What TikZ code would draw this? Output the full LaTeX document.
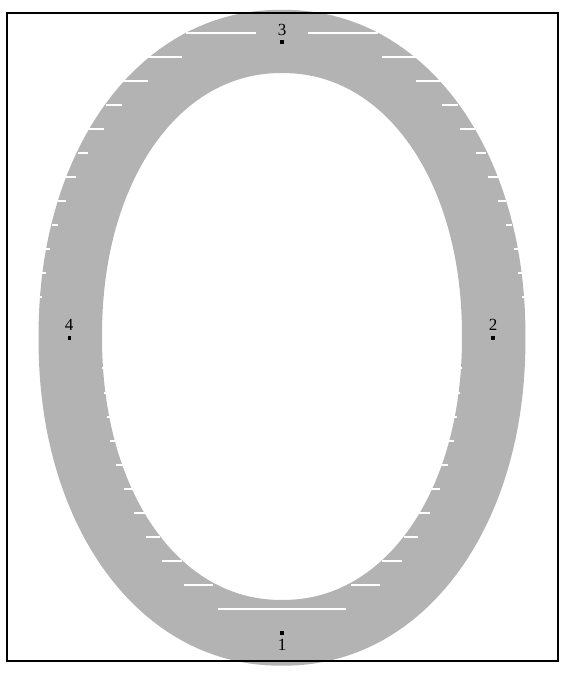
\documentclass[tikz,border=0pt]{standalone}
\usepackage{fontspec}
\setmainfont{Liberation Serif}
\definecolor{ringgray}{RGB}{179,179,179}
\tikzset{
  ringfill/.style={fill=ringgray, even odd rule},
  gapline/.style={draw=white, line width=1.1pt},
  lbl/.style={font=\fontsize{17}{17}\selectfont, inner sep=0pt, text=black},
  pdot/.style={rectangle, fill=black, inner sep=0pt, minimum size=3.6pt},
  frame/.style={draw=black, line width=2.2pt}
}
\begin{document}
\begin{tikzpicture}[x=1pt,y=-1pt]
\useasboundingbox (0,0) rectangle (572,682);
% ring (superellipse, exponent 2.1)
\fill[ringfill]
  plot[variable=\t, domain=1:361, samples=181]
    ({282 + 243.5*cos(\t)*pow(abs(cos(\t)),-0.048)},
     {337.75 + 328*sin(\t)*pow(abs(sin(\t)),-0.048)}) -- cycle
  plot[variable=\t, domain=1:361, samples=181]
    ({282 + 180*cos(\t)*pow(abs(cos(\t)),-0.048)},
     {336.5 + 263.5*sin(\t)*pow(abs(sin(\t)),-0.048)}) -- cycle;
% white scan gaps, upper half (outer edge)
\foreach \yy/\a/\b in {33/26/96, 57/100/134, 81/134/160, 105/160/176, 129/178/193,
                       153/194/204, 177/206/216, 201/216/224, 225/224/230,
                       249/232/237, 273/236/240, 297/240/243}{
  \draw[gapline] (282-\b,\yy) -- (282-\a,\yy);
  \draw[gapline] (282+\a,\yy) -- (282+\b,\yy);
}
% white scan gaps, lower half (inner edge)
\foreach \yy/\a/\b in {368/178/180, 393/174/178, 417/170/175, 441/166/172,
                       465/158/166, 489/149/158, 513/135/148, 537/122/136,
                       561/100/120, 585/69/98}{
  \draw[gapline] (282-\b,\yy) -- (282-\a,\yy);
  \draw[gapline] (282+\a,\yy) -- (282+\b,\yy);
}
\draw[gapline] (218,609) -- (346,609);
% labels and points
\node[lbl] (l3) at (282,30) {3};
\node[pdot] (p3) at (282,42) {};
\node[lbl] (l4) at (69,325) {4};
\node[pdot] (p4) at (69.5,338) {};
\node[lbl] (l2) at (493,325) {2};
\node[pdot] (p2) at (493,338) {};
\node[pdot] (p1) at (282,633) {};
\node[lbl] (l1) at (282,645) {1};
% frame
\draw[frame] (7,13) rectangle (558.3,661);
\end{tikzpicture}
\end{document}
